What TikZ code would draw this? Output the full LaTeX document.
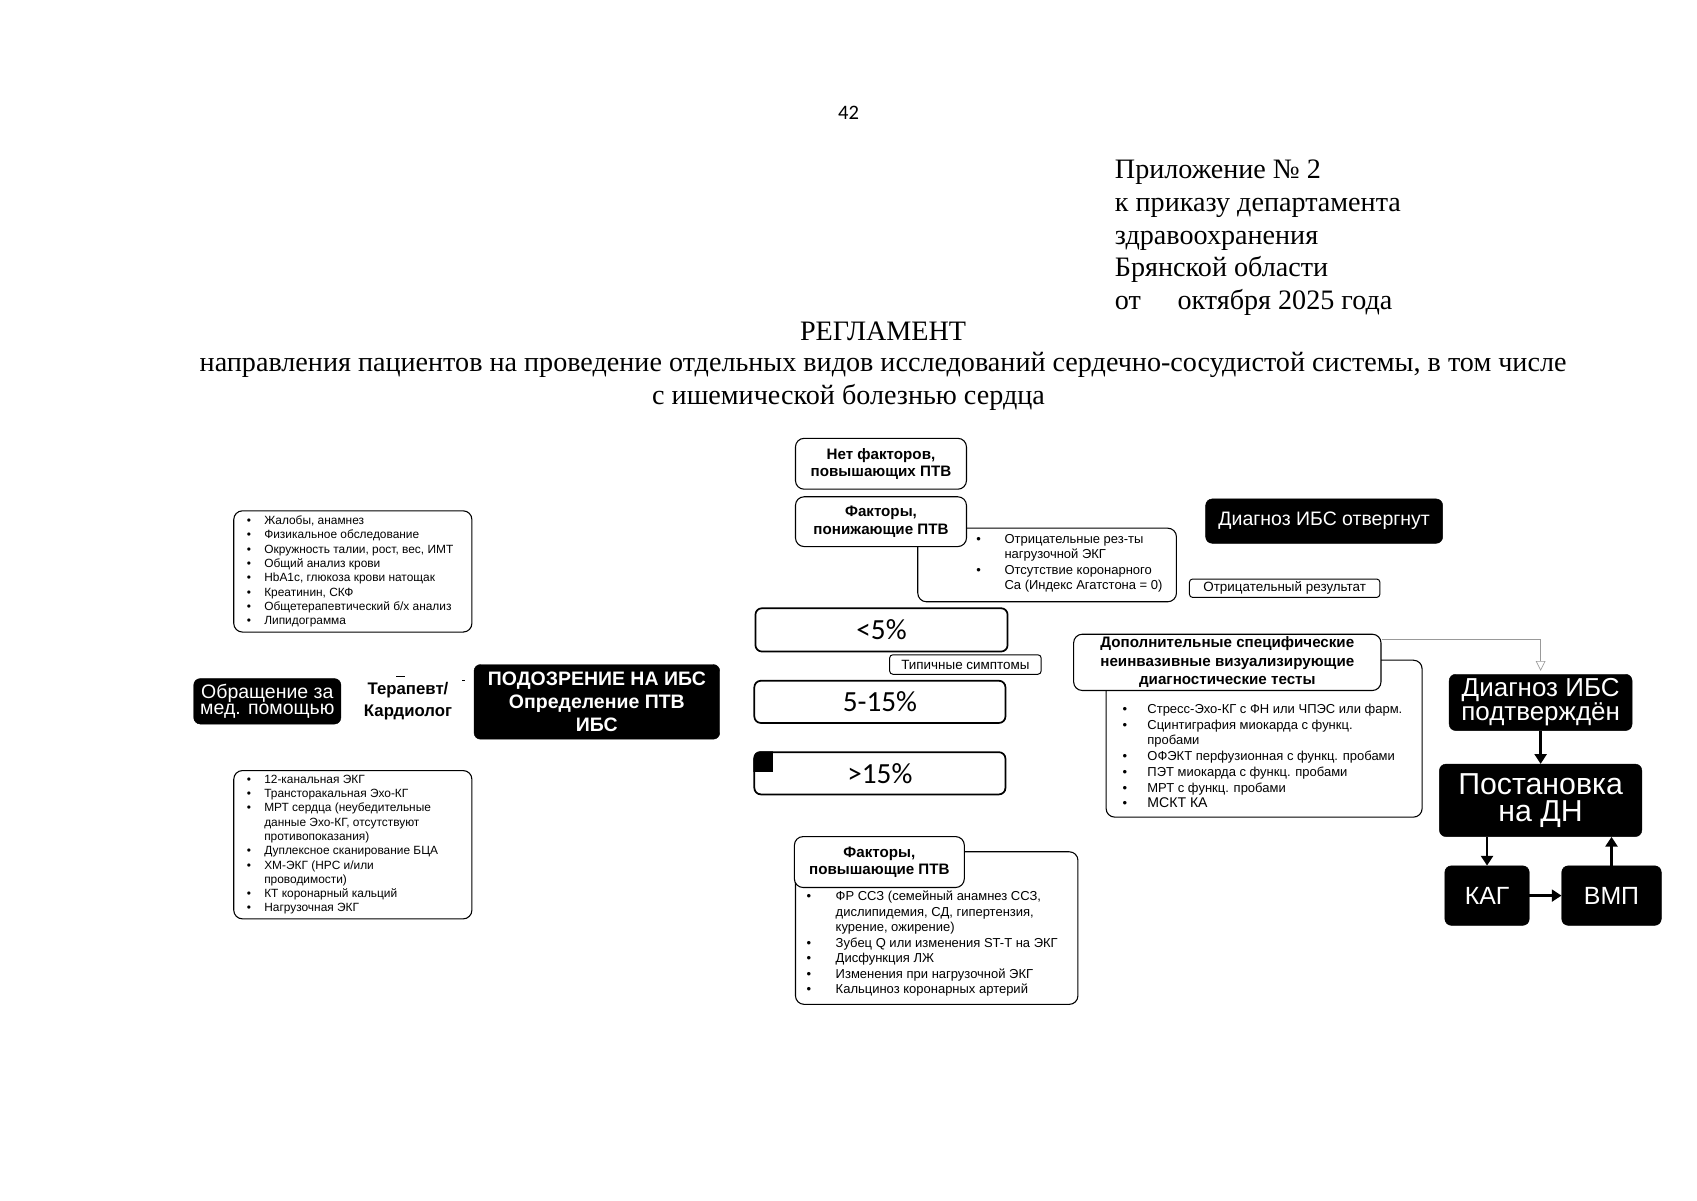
\documentclass[tikz,border=0pt]{standalone}
\usepackage{fontspec}
\setmainfont{Liberation Sans}
\newfontfamily\headserif{Liberation Serif}
\newfontfamily\calib{Carlito}
\usetikzlibrary{positioning,arrows.meta}
\newcommand{\pitem}[2][16pt]{\makebox[#1][l]{\textbullet}#2}
\newcommand{\pcont}[2][16pt]{\hspace*{#1}#2}
\newcommand{\fsz}[2]{\fontsize{#1}{#2}\selectfont}

\tikzset{
  darkbox/.style={draw=black, fill=black, text=white, rounded corners=6pt, align=center, inner sep=0pt},
  lightbox/.style={draw=black, fill=white, rounded corners=8pt, line width=1pt, align=center, inner sep=0pt, font=\bfseries\fsz{14}{16}},
  listbox/.style={draw=black, rounded corners=8pt, line width=1pt, inner sep=0pt},
  pctbox/.style={draw=black, rounded corners=6pt, line width=1.6pt, inner sep=0pt, font=\calib\fsz{27}{29}},
  tagbox/.style={draw=black, rounded corners=3pt, line width=0.9pt, inner sep=0pt, font=\fsz{12.4}{13}},
  listtext/.style={anchor=west, align=left, inner sep=0pt, font=\fsz{11}{13.2}},
  thickarrow/.style={line width=2.6pt, -{Triangle[width=11pt,length=9pt]}},
  titletext/.style={inner sep=0pt, font=\headserif\fsz{26}{30}},
}

\begin{document}
\begin{tikzpicture}[x=1pt,y=-1pt]
\useasboundingbox (0,0) rectangle (1568,1109);

% Page header
\node[font=\calib\fsz{19}{22}] (pagenum) at (784,104) {42};
\node[anchor=base west, align=left, inner sep=0pt, font=\headserif\fsz{26}{30.2}] (annex) at (1030,286)
  {Приложение №~2\\к приказу департамента\\здравоохранения\\Брянской области\\от\hspace{1.3em}октября 2025 года};
\node[titletext] (reglament) at (816,306) {РЕГЛАМЕНТ};
\node[titletext] (purpose) at (816,337) {направления пациентов на проведение отдельных видов исследований сердечно-сосудистой системы, в том числе};
\node[titletext] (purposeend) at (784,367) {с ишемической болезнью сердца};

% Left column
\node[listbox, minimum width=220, minimum height=112] (exambox) at (326,528) {};
\node[listtext] (examlist) at (228,528) {\pitem{Жалобы, анамнез}\\\pitem{Физикальное обследование}\\
  \pitem{Окружность талии, рост, вес, ИМТ}\\\pitem{Общий анализ крови}\\
  \pitem{HbA1c, глюкоза крови натощак}\\\pitem{Креатинин, СКФ}\\
  \pitem{Общетерапевтический б/х анализ}\\\pitem{Липидограмма}};

\node[darkbox, minimum width=136, minimum height=42, font=\fsz{18}{15.5}] (visit) at (247,648) {Обращение за\\мед. помощью};
\node[align=center, inner sep=0pt, font=\bfseries\fsz{15.5}{20}] (doctor) at (377,648) {Терапевт/\\Кардиолог};
\node[darkbox, minimum width=227, minimum height=69, font=\bfseries\fsz{18}{21}] (suspect) at (551.5,648.5)
  {ПОДОЗРЕНИЕ НА ИБС\\Определение ПТВ\\ИБС};
\draw[line width=1pt] (366,625) -- (374,625);
\draw[line width=1pt] (427,629) -- (430,629);

\node[listbox, minimum width=220, minimum height=137] (instrbox) at (326,780.5) {};
\node[listtext] (instrlist) at (228,780.5) {\pitem{12-канальная ЭКГ}\\\pitem{Трансторакальная Эхо-КГ}\\
  \pitem{МРТ сердца (неубедительные}\\\pcont{данные Эхо-КГ, отсутствуют}\\\pcont{противопоказания)}\\
  \pitem{Дуплексное сканирование БЦА}\\\pitem{ХМ-ЭКГ (НРС и/или}\\\pcont{проводимости)}\\
  \pitem{КТ коронарный кальций}\\\pitem{Нагрузочная ЭКГ}};

% Middle column
\node[lightbox, minimum width=158, minimum height=47] (nofac) at (814,428.5) {Нет факторов,\\повышающих ПТВ};
\node[listbox, minimum width=239, minimum height=68] (lowbox) at (967.5,522) {};
\node[lightbox, minimum width=158, minimum height=46] (lowfac) at (814,482) {Факторы,\\понижающие ПТВ};
\node[listtext, font=\fsz{12}{14.3}] (lowlist) at (902,520.5) {\pitem[26pt]{Отрицательные рез-ты}\\\pcont[26pt]{нагрузочной ЭКГ}\\
  \pitem[26pt]{Отсутствие коронарного}\\\pcont[26pt]{Ca (Индекс Агатстона = 0)}};

\node[pctbox, minimum width=233, minimum height=40] (low) at (814.5,582) {<5\%};
\node[tagbox, minimum width=140, minimum height=18] (typical) at (892,614) {Типичные симптомы};
\node[pctbox, minimum width=232, minimum height=39] (mid) at (813,648.5) {5-15\%};
\node[pctbox, minimum width=232, minimum height=39] (high) at (813,714.5) {>15\%};
\begin{scope}
  \clip[rounded corners=6pt] (high.north west) rectangle (high.south east);
  \fill (high.north west) rectangle ++(18,19);
\end{scope}

\node[listbox, minimum width=261, minimum height=141] (highbox) at (865.5,857.5) {};
\node[lightbox, minimum width=157, minimum height=47] (highfac) at (812.5,796.5) {Факторы,\\повышающие ПТВ};
\node[listtext, font=\fsz{12}{14.3}] (highlist) at (745,872) {\pitem[27pt]{ФР ССЗ (семейный анамнез ССЗ,}\\
  \pcont[27pt]{дислипидемия, СД, гипертензия,}\\\pcont[27pt]{курение, ожирение)}\\
  \pitem[27pt]{Зубец Q или изменения ST-T на ЭКГ}\\\pitem[27pt]{Дисфункция ЛЖ}\\
  \pitem[27pt]{Изменения при нагрузочной ЭКГ}\\\pitem[27pt]{Кальциноз коронарных артерий}};

% Right column
\node[darkbox, minimum width=219, minimum height=41, font=\fsz{18}{20}] (rejected) at (1223.5,481.5) {Диагноз ИБС отвергнут};
\node[tagbox, minimum width=176, minimum height=17] (negres) at (1187,543.5) {Отрицательный результат};

\node[listbox, minimum width=292, minimum height=145] (testbox) at (1168,682.5) {};
\node[lightbox, minimum width=284, minimum height=52, font=\bfseries\fsz{14}{17}] (tests) at (1134,612)
  {Дополнительные специфические\\неинвазивные визуализирующие\\диагностические тесты};
\node[listtext, font=\fsz{12}{14.5}] (testlist) at (1037,698.5) {\pitem[23pt]{Стресс-Эхо-КГ с ФН или ЧПЭС или фарм.}\\
  \pitem[23pt]{Сцинтиграфия миокарда с функц.}\\\pcont[23pt]{пробами}\\
  \pitem[23pt]{ОФЭКТ перфузионная с функц. пробами}\\\pitem[23pt]{ПЭТ миокарда с функц. пробами}\\
  \pitem[23pt]{МРТ с функц. пробами}\\\pitem[23pt]{{\fsz{13}{14.5}МСКТ КА}}};

\node[darkbox, minimum width=169, minimum height=52, font=\fsz{24}{21}] (confirmed) at (1423.5,649) {Диагноз ИБС\\подтверждён};
\node[darkbox, minimum width=187, minimum height=67, font=\fsz{28}{25}] (dispreg) at (1423.5,739.5) {Постановка\\на ДН};
\node[darkbox, minimum width=78, minimum height=55, font=\fsz{23}{25}] (kag) at (1374,827.5) {КАГ};
\node[darkbox, minimum width=92, minimum height=55, font=\fsz{23}{25}] (vmp) at (1489,827.5) {ВМП};

\draw[gray!80, line width=0.6pt, -{Triangle[open,width=9pt,length=9pt]}, shorten >=3pt]
  (tests.north east) ++(0,5) -| (confirmed.north);
\draw[thickarrow] (confirmed) -- (dispreg);
\draw[thickarrow] (dispreg.south -| kag.north) -- (kag.north);
\draw[thickarrow] (kag) -- (vmp);
\draw[thickarrow] (vmp.north) -- (vmp.north |- dispreg.south);
\end{tikzpicture}
\end{document}
